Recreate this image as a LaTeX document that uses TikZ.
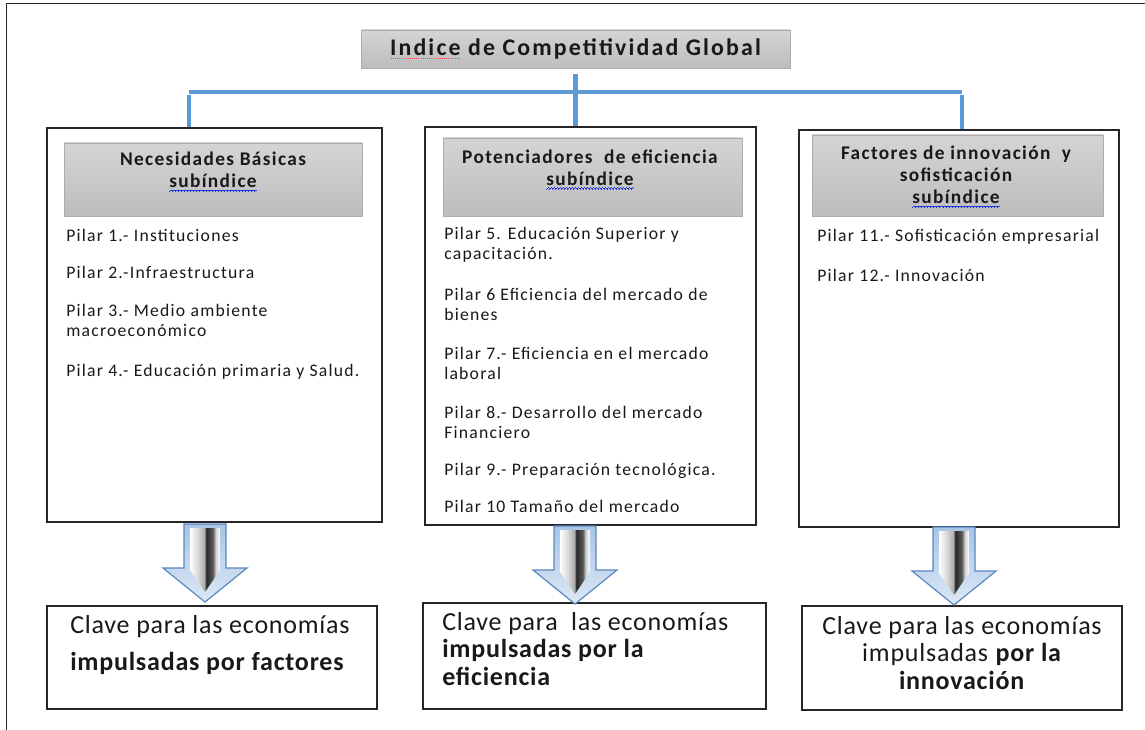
\documentclass[tikz,border=0pt]{standalone}
\usepackage{fontspec}
\usetikzlibrary{fit}
\setmainfont{Carlito}
\newfontfamily\titlefont[LetterSpace=9]{Carlito}
\newfontfamily\headfont[LetterSpace=7]{Carlito}
\newfontfamily\listfont[LetterSpace=7]{Carlito}
\newfontfamily\keyfont[LetterSpace=3]{Carlito}
\definecolor{linkblue}{HTML}{5B9BD5}
\definecolor{arrowedge}{HTML}{5A88C0}
\definecolor{arrowtop}{HTML}{A9C4E6}
\definecolor{arrowbot}{HTML}{DCE8F6}
\definecolor{spellblue}{HTML}{2233DD}
\definecolor{headtop}{HTML}{D4D4D4}
\definecolor{headbot}{HTML}{BDBDBD}
\pgfdeclarehorizontalshading{shaftshade}{100bp}{color(0bp)=(white); color(25bp)=(white); color(38bp)=(gray!30); color(49bp)=(gray!65); color(52bp)=(black!85); color(63bp)=(black!65); color(68bp)=(gray!35); color(75bp)=(white); color(100bp)=(white)}
\newsavebox\spellbox
\newcommand\spellwave[1]{\sbox\spellbox{#1}\rlap{\textcolor{spellblue}{\lower3pt\hbox to\wd\spellbox{\xleaders\hbox{\vrule width0.55pt height0.5pt\raise0.5pt\hbox{\vrule width0.55pt height0.5pt}\raise1pt\hbox{\vrule width0.55pt height0.5pt}\raise0.5pt\hbox{\vrule width0.55pt height0.5pt}}\hfil}}}\usebox\spellbox}
\newcommand\spelldots[1]{\sbox\spellbox{#1}\rlap{\textcolor{red!75}{\lower2.6pt\hbox to\wd\spellbox{\xleaders\hbox{\kern0.45pt\vrule width0.7pt height0.7pt\kern0.45pt}\hfil}}}\usebox\spellbox}
\begin{document}
\begin{tikzpicture}[x=0.75pt, y=-0.75pt,
  frameline/.style={draw=black!85, line width=1.2pt},
  pillarbox/.style={draw=black!85, line width=1.1pt, fill=white, inner sep=0pt},
  headbox/.style={draw=gray!65, line width=0.6pt, top color=headtop, bottom color=headbot, inner sep=0pt},
  keybox/.style={draw=black!85, line width=1.1pt, fill=white, inner sep=0pt},
  vlink/.style={draw=linkblue, line width=3.2pt},
  hlink/.style={draw=linkblue, line width=2.4pt},
  titletext/.style={font=\titlefont\bfseries\fontsize{17.9}{20}\selectfont, inner sep=0pt, text=black!90},
  headtext/.style={font=\headfont\bfseries\fontsize{14.5}{16.5}\selectfont, align=center, inner sep=0pt, text=black!90},
  pillartext/.style={font=\listfont\fontsize{13.25}{15}\selectfont, align=left, anchor=north west, inner sep=0pt, text=black!90},
  keytext/.style={font=\keyfont\fontsize{19.5}{20.6}\selectfont, inner sep=0pt, anchor=north west, align=left, text=black!90},
  bigarrow/.pic={
    \path[draw=arrowedge, line width=0.9pt, top color=arrowtop, bottom color=arrowbot, line join=miter]
      (-21,0) -- (21,0) -- (21,44) -- (42,44) -- (0,78) -- (-42,44) -- (-21,44) -- cycle;
    \path[shading=shaftshade] (-15,4) -- (15,4) -- (15,46) -- (0,68) -- (-15,46) -- cycle;
  }
]
\useasboundingbox (0,0) rectangle (1145,730);
\fill[white] (0,0) rectangle (1145,730);
\draw[frameline] (6.5,730) -- (6.5,3.5) -- (1145,3.5);

% title
\node[headbox, fit={(361,30) (790,68)}] (title) {};
\node[titletext] (titletxt) at (title.center) {\spelldots{Indice} de Competitividad Global};

% pillar boxes
\node[pillarbox, fit={(47,128) (382,522)}] (lbox) {};
\node[pillarbox, fit={(425,127) (756,525)}] (mbox) {};
\node[pillarbox, fit={(799,130) (1119,527)}] (rbox) {};

\node[headbox, fit={(64,143) (362,216)}] (lhead) {};
\node[headbox, fit={(443,138) (742,216)}] (mhead) {};
\node[headbox, fit={(812,135) (1103,216)}] (rhead) {};

\node[headtext] (lheadtxt) at (213,172) {Necesidades Básicas\\\spellwave{subíndice}};
\node[headtext] (mheadtxt) at (590,169.5) {Potenciadores~ de eficiencia\\\spellwave{subíndice}};
\node[headtext] (rheadtxt) at (956,177) {Factores de innovación~ y\\sofisticación\\\spellwave{subíndice}};

% left list
\node[pillartext] (p1) at (66,229) {Pilar 1.- Instituciones};
\node[pillartext] (p2) at (66,266) {Pilar 2.-Infraestructura};
\node[pillartext] (p3) at (66,304) {Pilar 3.- Medio ambiente\\macroeconómico};
\node[pillartext] (p4) at (66,364) {Pilar 4.- Educación primaria y Salud.};
% middle list
\node[pillartext] (p5) at (444,227) {Pilar 5. Educación Superior y\\capacitación.};
\node[pillartext] (p6) at (444,288) {Pilar 6 Eficiencia del mercado de\\bienes};
\node[pillartext] (p7) at (444,347) {Pilar 7.- Eficiencia en el mercado\\laboral};
\node[pillartext] (p8) at (444,406) {Pilar 8.- Desarrollo del mercado\\Financiero};
\node[pillartext] (p9) at (444,463) {Pilar 9.- Preparación tecnológica.};
\node[pillartext] (p10) at (444,500) {Pilar 10 Tamaño del mercado};
% right list
\node[pillartext] (p11) at (817,229) {Pilar 11.- Sofisticación empresarial};
\node[pillartext] (p12) at (817,269) {Pilar 12.- Innovación};

% connectors
\coordinate (hubL) at (189,92);
\coordinate (hubR) at (962,92);
\draw[vlink] ([yshift=-4.5pt]title.south) -- (title.south |- mbox.north);
\draw[hlink] (hubL) -- (hubR);
\draw[vlink] ([yshift=-2pt]hubL) -- (hubL |- lbox.north);
\draw[vlink] ([yshift=-2pt]hubR) -- (hubR |- rbox.north);

% key boxes
\node[keybox, fit={(47,606) (377,709)}] (lkey) {};
\node[keybox, fit={(423,603) (766,709)}] (mkey) {};
\node[keybox, fit={(802,606) (1122,710)}] (rkey) {};
\node[keytext, font=\keyfont\fontsize{19.5}{27.75}\selectfont] (lkeytxt) at (70,615) {Clave para las economías\\\textbf{impulsadas por factores}};
\node[keytext] (mkeytxt) at (442,612) {Clave para~ las economías\\\textbf{impulsadas por la}\\\textbf{eficiencia}};
\node[keytext, anchor=north, align=center] (rkeytxt) at (962,616) {Clave para las economías\\impulsadas \textbf{por la}\\\textbf{innovación}};

% arrows
\pic (la) at (205,524) {bigarrow};
\pic (ma) at (575,526) {bigarrow};
\pic (ra) at (954,527) {bigarrow};
\end{tikzpicture}
\end{document}
